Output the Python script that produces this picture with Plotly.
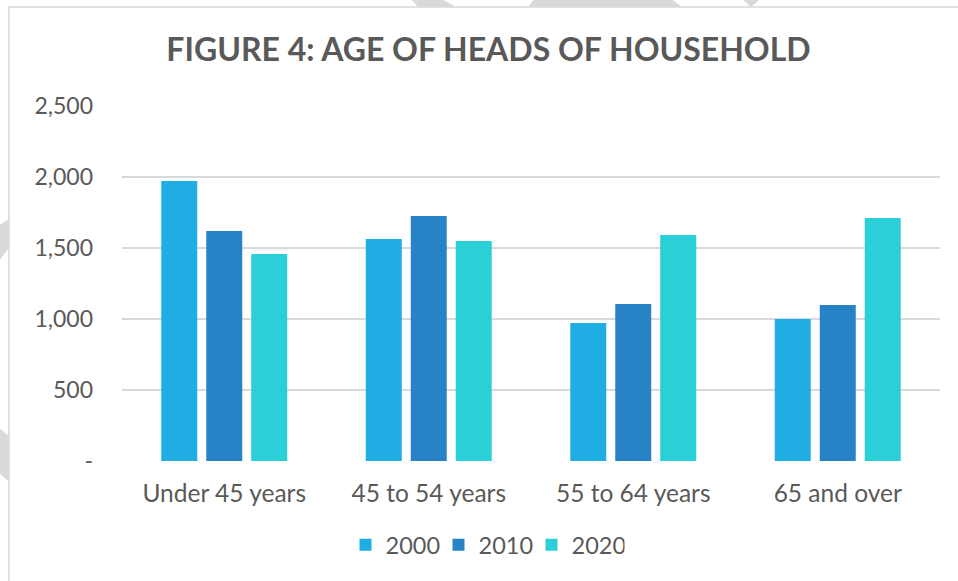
import plotly.graph_objects as go

# data
age_groups = ["Under 45 years", "45 to 54 years", "55 to 64 years", "65 and over"]
years = ["2000", "2010", "2020"]
heads_2000 = [1972, 1563, 972, 1000]
heads_2010 = [1620, 1725, 1106, 1099]
heads_2020 = [1458, 1549, 1592, 1711]
y_ticks = [0, 500, 1000, 1500, 2000, 2500]
y_tick_text = ["-", "500", "1,000", "1,500", "2,000", "2,500"]

colors = ["#1FADE4", "#2783C6", "#2ACFD8"]
text_color = "#595959"
grid_color = "#D9D9D9"

W, H = 958, 581
L, R, T, B = 122, 18, 106, 120
pw, ph = W - L - R, H - T - B


def to_paper(x, y):
    # pixel position -> paper coordinates
    return (x - L) / pw, (H - B - y) / ph


def poly(points):
    pts = [to_paper(x, y) for x, y in points]
    return "M " + " L ".join(f"{a:.4f},{b:.4f}" for a, b in pts) + " Z"


fig = go.Figure()
for name, vals, c in zip(years, [heads_2000, heads_2010, heads_2020], colors):
    fig.add_trace(go.Bar(x=age_groups, y=vals, name=name, marker=dict(color=c, line=dict(width=0))))

# faint watermark fragments outside the chart box
watermark = [
    [(410, -2), (440, -2), (456, 7), (418, 7)],
    [(535, -2), (670, -2), (682, 7), (528, 7)],
    [(741, -2), (762, -2), (751, 7)],
    [(-2, 226), (9, 219), (9, 248), (-2, 262)],
    [(-2, 427), (9, 436), (9, 482), (-2, 472)],
]
shapes = [dict(type="path", path=poly(p), xref="paper", yref="paper", fillcolor="#D9D9D9",
               line=dict(width=0), layer="below") for p in watermark]

bx0, by1 = to_paper(9, 7)
bx1, by0 = to_paper(990, 620)
shapes.append(dict(type="rect", xref="paper", yref="paper", x0=bx0, x1=bx1, y0=by0, y1=by1,
                   fillcolor="white", line=dict(color=grid_color, width=1.5), layer="below"))

fig.update_layout(
    width=W, height=H,
    margin=dict(l=L, r=R, t=T, b=B),
    paper_bgcolor="white", plot_bgcolor="rgba(0,0,0,0)",
    font=dict(family="Lato, sans-serif", size=23, color=text_color),
    title=dict(text="<b>FIGURE 4: AGE OF HEADS OF HOUSEHOLD</b>", x=488.5 / W, xanchor="center",
               y=1 - 50 / H, yanchor="middle", font=dict(family="Lato, sans-serif", size=32, color=text_color)),
    barmode="group", bargap=0.34, bargroupgap=0.2,
    legend=dict(orientation="h", x=(485 - L) / pw, xanchor="center", y=(H - B - 545) / ph, yanchor="middle",
                font=dict(size=23.5, color=text_color), itemwidth=30, entrywidth=48, traceorder="normal"),
    shapes=shapes,
)
fig.update_xaxes(showgrid=False, showline=False, ticks="", ticklabelstandoff=15,
                 tickfont=dict(size=24.5))
fig.update_yaxes(range=[0, 2500], tickvals=y_ticks, ticktext=y_tick_text, showgrid=True,
                 gridcolor=grid_color, gridwidth=1.5, zeroline=False, showline=False,
                 ticks="", ticklabelstandoff=28)

fig.write_html("out.html", config={"displayModeBar": False},
               post_script="document.body.style.margin='0';")
